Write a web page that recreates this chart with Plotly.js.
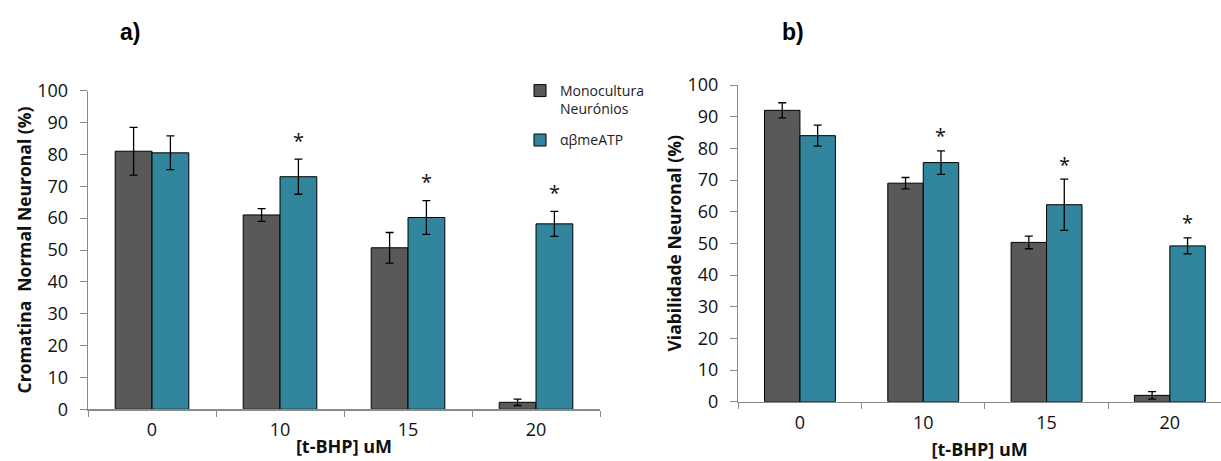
<!DOCTYPE html>
<html>
<head>
<meta charset="utf-8">
<script src="https://cdn.plot.ly/plotly-3.0.1.min.js"></script>
<style>html,body{margin:0;padding:0;background:#fff;}#chart{width:1221px;height:461px;}</style>
</head>
<body>
<div id="chart"></div>
<script>
// ---- data ----
const categories = ['0', '10', '15', '20'];
const seriesNames = ['Monocultura<br>Neurónios', 'αβmeATP'];

// a) Cromatina Normal Neuronal (%)
const chromMono = [81, 61, 50.7, 2.2];
const chromMonoErr = [7.5, 2, 4.8, 1];
const chromAtp = [80.5, 73, 60.2, 58.2];
const chromAtpErr = [5.3, 5.5, 5.3, 3.9];
const chromSig = ['', '*', '*', '*'];

// b) Viabilidade Neuronal (%)
const viabMono = [92, 69, 50.3, 2];
const viabMonoErr = [2.4, 1.8, 2, 1.2];
const viabAtp = [84, 75.5, 62.2, 49.2];
const viabAtpErr = [3.3, 3.7, 8.1, 2.5];
const viabSig = ['', '*', '*', '*'];

const yTitleA = 'Cromatina  Normal Neuronal (%)';
const yTitleB = 'Viabilidade Neuronal (%)';
const xTitle = '[t-BHP] uM';
const panelLabels = ['a)', 'b)'];

// ---- style ----
const W = 1221, H = 461;
const GREY = '#595959', TEAL = '#31859C';
const AXIS = '#8a8a8a';
const FONT = 'Open Sans, Liberation Sans, sans-serif';
const BARGAP = 0.425;

function errStyle(arr) {
  return {type: 'data', array: arr, visible: true, color: '#000', thickness: 1.3, width: 4};
}
function barTrace(y, err, color, name, xa, ya, show, group) {
  return {
    type: 'bar', x: categories, y: y, name: name, xaxis: xa, yaxis: ya,
    marker: {color: color, line: {color: '#000', width: 1}},
    error_y: errStyle(err), showlegend: show, legendgroup: group,
    hoverinfo: 'y'
  };
}

const traces = [
  barTrace(chromMono, chromMonoErr, GREY, seriesNames[0], 'x', 'y', true, 'g1'),
  barTrace(chromAtp, chromAtpErr, TEAL, seriesNames[1], 'x', 'y', true, 'g2'),
  barTrace(viabMono, viabMonoErr, GREY, seriesNames[0], 'x2', 'y2', false, 'g1'),
  barTrace(viabAtp, viabAtpErr, TEAL, seriesNames[1], 'x2', 'y2', false, 'g2')
];

// domains (pixel based)
const dxA = [88 / W, 600 / W], dyA = [51.7 / H, 370.3 / H];
const dxB = [738.3 / W, 1], dyB = [59.3 / H, 376 / H];
const rangeB = [-0.5, -0.5 + (W - 738.3) / 123.3];

function xAxis(domain, anchor, range, standoff) {
  return {
    domain: domain, anchor: anchor, type: 'category', range: range,
    showline: true, linecolor: AXIS, linewidth: 1.3,
    ticks: 'outside', tickson: 'boundaries', ticklen: 6, tickcolor: AXIS, tickwidth: 1,
    tickfont: {family: FONT, size: 18, color: '#111'}, ticklabelstandoff: 4,
    showgrid: false, zeroline: false,
    title: {text: xTitle, font: {family: FONT, size: 18, color: '#111', weight: 'bold'}, standoff: standoff}
  };
}
function yAxis(domain, anchor, title) {
  return {
    domain: domain, anchor: anchor, range: [0, 100], dtick: 10,
    showline: true, linecolor: AXIS, linewidth: 1.3,
    ticks: 'outside', ticklen: 7, tickcolor: AXIS, tickwidth: 1,
    tickfont: {family: FONT, size: 18, color: '#111'}, ticklabelstandoff: 8,
    showgrid: false, zeroline: false,
    title: {text: title, font: {family: FONT, size: 17.5, color: '#111', weight: 'bold'}, standoff: 1}
  };
}

// significance stars on teal bars (x given as category index)
const annotations = [];
function addStars(sig, vals, errs, xa, ya, catPx, shift) {
  const barPx = catPx * (1 - BARGAP) / 2;
  sig.forEach((s, i) => {
    if (!s) return;
    annotations.push({
      xref: xa, yref: ya, x: i, y: vals[i] + errs[i],
      text: s, showarrow: false, xshift: barPx / 2, yshift: shift,
      yanchor: 'middle', font: {family: FONT, size: 20, color: '#111'}
    });
  });
}
addStars(chromSig, chromAtp, chromAtpErr, 'x', 'y', 128, 19);
addStars(viabSig, viabAtp, viabAtpErr, 'x2', 'y2', 123.3, 15);

const panelFont = {family: 'Liberation Sans Narrow, Liberation Sans, Arial, sans-serif', size: 23, color: '#000'};
annotations.push({
  xref: 'paper', yref: 'paper', x: 130 / W, y: 1 - 32 / H, text: '<b>' + panelLabels[0] + '</b>',
  showarrow: false, xanchor: 'center', yanchor: 'middle', font: panelFont
});
annotations.push({
  xref: 'paper', yref: 'paper', x: 793 / W, y: 1 - 32 / H, text: '<b>' + panelLabels[1] + '</b>',
  showarrow: false, xanchor: 'center', yanchor: 'middle', font: panelFont
});

const layout = {
  width: W, height: H,
  margin: {l: 0, r: 0, t: 0, b: 0},
  paper_bgcolor: '#fff', plot_bgcolor: '#fff',
  barmode: 'group', bargap: BARGAP, bargroupgap: 0,
  font: {family: FONT, color: '#111'},
  xaxis: xAxis(dxA, 'y', [-0.5, 3.5], 0),
  yaxis: yAxis(dyA, 'x', yTitleA),
  xaxis2: xAxis(dxB, 'y2', rangeB, 12),
  yaxis2: yAxis(dyB, 'x2', yTitleB),
  showlegend: true,
  legend: {
    x: 520 / W, y: 1 - 75 / H, xanchor: 'left', yanchor: 'top',
    font: {family: FONT, size: 14, color: '#222'},
    bgcolor: 'rgba(0,0,0,0)', tracegroupgap: 10, valign: 'top',
    traceorder: 'grouped'
  },
  annotations: annotations
};

Plotly.newPlot('chart', traces, layout, {displayModeBar: false, staticPlot: true});
</script>
</body>
</html>
